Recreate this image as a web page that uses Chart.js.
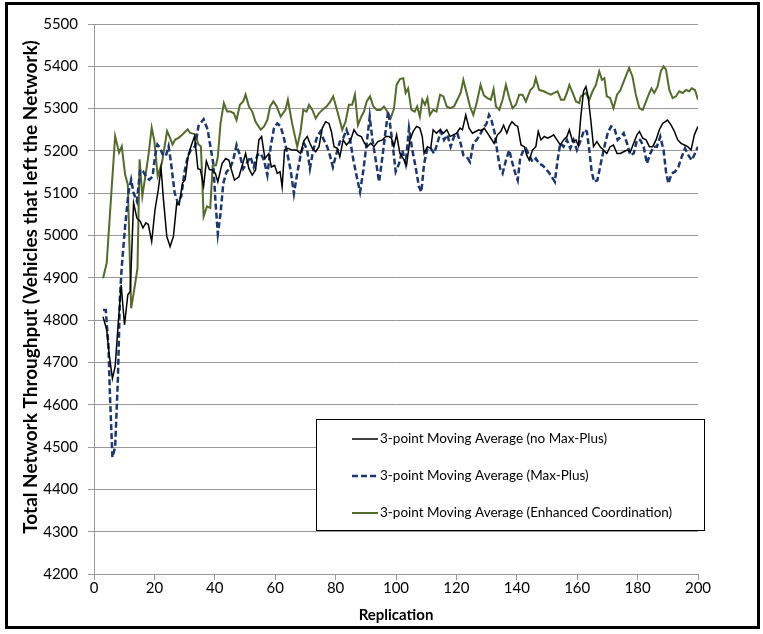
<!DOCTYPE html>
<html>
<head>
<meta charset="utf-8">
<script src="https://cdn.jsdelivr.net/npm/chart.js@4.4.1/dist/chart.umd.min.js"></script>
<style>
    html, body { margin: 0; padding: 0; background: #fff; }
    #wrap { position: relative; width: 763px; height: 634px; }
    #frame { position: absolute; left: 5px; top: 2px; width: 755px; height: 627px; box-sizing: border-box; border: 3px solid #000; pointer-events: none; }
</style>
</head>
<body>
<div id="wrap">
    <canvas id="chart" width="763" height="634"></canvas>
    <div id="frame"></div>
</div>
<script>
// values: replication (x) and throughput (y) per series
const noMaxPlusX = [3, 4.2, 5, 6.1, 7, 8.1, 9, 10.1, 11.2, 12, 13.1, 14.2, 15.3, 16.2, 17.2, 18, 19.1, 20.2, 21.3, 22.2, 23, 24.1, 25.2, 26.3, 27.4, 28.2, 29.3, 30.2, 31.1, 31.8, 33.3, 34.4, 35.2, 36.3, 37.2, 38.2, 39.1, 40.2, 41, 42.4, 43.6, 44.7, 45.4, 46.5, 48, 49.1, 50.2, 51.3, 52.4, 53.5, 54.6, 55.5, 56.6, 57.9, 58.7, 59.8, 60.7, 61.6, 62.3, 63.1, 64.2, 65.6, 67.1, 68.4, 69.5, 70.6, 71.5, 72.3, 73.4, 74.5, 75.6, 76.7, 77.8, 78.6, 79.5, 80.6, 81.4, 82.5, 83.6, 85, 86.1, 87.2, 88.5, 89.6, 90.5, 91.6, 92.7, 94, 95.5, 96.6, 97.7, 98.5, 99.3, 100.2, 101.3, 102.4, 103.5, 104.6, 105.7, 106.8, 107.9, 108.7, 109.3, 110.4, 111.5, 112.3, 113.4, 114.6, 115.7, 116.8, 117.9, 119, 120.1, 121.2, 122, 123.1, 124.2, 125.3, 126.4, 127.5, 128.3, 129.2, 130.3, 131.4, 132.5, 133.6, 134.7, 135.6, 136.7, 137.5, 138.4, 139.5, 140.3, 141.4, 142.5, 143.3, 144.1, 145.2, 146.3, 147.1, 148, 149.1, 150.2, 151.3, 152.2, 153.3, 154.4, 155.5, 156.6, 157.4, 158.5, 159.6, 160.4, 161.2, 162.1, 162.9, 163.6, 164.5, 165.4, 166.5, 167.6, 168.7, 169.8, 170.9, 172, 173.2, 174.3, 175.4, 176.5, 177.6, 178.7, 179.8, 180.6, 181.7, 182.8, 183.9, 185, 186.1, 187.2, 188.3, 189.9, 191.1, 192.2, 193.3, 194.4, 195.5, 196.6, 197.7, 198.8, 200];
const noMaxPlusY = [4808, 4777, 4721, 4662, 4690, 4800, 4883, 4789, 4860, 4868, 5077, 5041, 5034, 5018, 5030, 5026, 4986, 5061, 5109, 5160, 5085, 4998, 4974, 4998, 5077, 5073, 5124, 5132, 5184, 5204, 5235, 5158, 5156, 5117, 5176, 5156, 5155, 5147, 5127, 5170, 5182, 5178, 5158, 5131, 5139, 5166, 5194, 5158, 5143, 5155, 5226, 5234, 5182, 5194, 5162, 5166, 5147, 5151, 5115, 5202, 5206, 5202, 5202, 5194, 5224, 5234, 5218, 5206, 5198, 5210, 5254, 5269, 5265, 5246, 5210, 5206, 5186, 5226, 5214, 5226, 5250, 5238, 5234, 5218, 5210, 5218, 5210, 5222, 5226, 5234, 5234, 5230, 5210, 5238, 5194, 5182, 5166, 5226, 5246, 5258, 5254, 5234, 5194, 5210, 5206, 5250, 5242, 5250, 5242, 5250, 5234, 5238, 5242, 5254, 5250, 5285, 5254, 5242, 5246, 5250, 5248, 5254, 5242, 5230, 5218, 5238, 5246, 5261, 5242, 5258, 5269, 5261, 5258, 5214, 5210, 5190, 5178, 5202, 5210, 5246, 5226, 5234, 5230, 5234, 5238, 5226, 5214, 5226, 5234, 5250, 5222, 5226, 5212, 5281, 5341, 5352, 5329, 5273, 5210, 5222, 5210, 5202, 5194, 5210, 5214, 5194, 5194, 5198, 5202, 5198, 5218, 5238, 5246, 5230, 5226, 5210, 5210, 5226, 5250, 5265, 5273, 5261, 5246, 5226, 5218, 5214, 5210, 5202, 5238, 5258];

const maxPlusX = [3, 3.9, 4.8, 5.3, 6.1, 7, 7.9, 8.6, 9.2, 10.3, 11.4, 12.3, 13.1, 14.2, 15.3, 16.2, 17.2, 18.3, 19.4, 20.2, 21, 21.9, 22.7, 23.8, 24.7, 25.5, 26.7, 27.8, 28.9, 30, 31.1, 32.2, 33.5, 34.6, 36.3, 37.6, 38.8, 39.5, 40.2, 41, 41.9, 42.8, 43.9, 45, 46.1, 47.2, 48.3, 49.4, 50.5, 51.8, 52.9, 54.1, 55.2, 56.3, 57.4, 58.5, 59.6, 60.7, 61.8, 62.9, 64, 65.1, 66.2, 67.3, 68.4, 69.5, 70.6, 71.5, 72.6, 73.9, 75, 76.1, 77.2, 78.1, 79.1, 80.3, 81.4, 82.5, 83.6, 84.8, 85.9, 87, 88.1, 89.2, 90.3, 91.3, 92.2, 93.3, 94.4, 95.5, 96.6, 97.4, 98.2, 99.1, 99.9, 101, 102.1, 103.2, 104.3, 105.4, 106.5, 107.6, 108.4, 109.3, 110.4, 111.5, 112.6, 113.7, 114.8, 115.9, 117, 118.1, 119.2, 120.3, 121.4, 122.3, 123.4, 124.5, 125.6, 126.7, 127.8, 128.9, 130, 130.8, 131.6, 132.7, 133.6, 134.5, 135.3, 136.4, 137.5, 138.6, 139.5, 140.3, 141.1, 142.2, 143, 144.1, 145.2, 146.3, 147.4, 148.5, 149.6, 150.8, 151.9, 152.6, 153.5, 154.4, 155.5, 156.6, 157.7, 158.8, 159.9, 161.2, 162.3, 163.2, 164, 164.8, 165.6, 166.7, 167.8, 169, 170.1, 171.2, 172.3, 173.4, 174.5, 175.4, 176.5, 177.6, 178.7, 179.8, 180.9, 182, 183.1, 184.2, 185.3, 186.4, 187.5, 188.6, 189.4, 190.2, 191.3, 192.4, 193.5, 194.6, 195.7, 196.8, 197.9, 199, 200];
const maxPlusY = [4824, 4824, 4737, 4619, 4476, 4500, 4658, 4856, 4927, 5022, 5101, 5132, 5101, 5081, 5156, 5152, 5140, 5132, 5140, 5188, 5215, 5207, 5192, 5188, 5211, 5172, 5101, 5077, 5093, 5152, 5188, 5204, 5211, 5259, 5275, 5251, 5200, 5170, 5083, 5004, 5052, 5123, 5151, 5158, 5178, 5214, 5190, 5158, 5170, 5186, 5162, 5190, 5194, 5178, 5143, 5210, 5254, 5265, 5258, 5230, 5194, 5155, 5099, 5147, 5190, 5218, 5202, 5158, 5202, 5234, 5246, 5226, 5210, 5190, 5162, 5194, 5222, 5230, 5250, 5226, 5178, 5139, 5103, 5155, 5218, 5281, 5226, 5178, 5127, 5186, 5250, 5293, 5254, 5202, 5151, 5170, 5202, 5170, 5254, 5202, 5162, 5115, 5103, 5170, 5206, 5206, 5194, 5218, 5246, 5226, 5238, 5210, 5234, 5242, 5218, 5190, 5186, 5174, 5218, 5226, 5238, 5254, 5265, 5285, 5273, 5242, 5194, 5158, 5147, 5178, 5202, 5170, 5147, 5131, 5182, 5202, 5206, 5190, 5174, 5182, 5170, 5166, 5158, 5147, 5135, 5127, 5178, 5218, 5210, 5226, 5206, 5226, 5202, 5226, 5250, 5246, 5202, 5151, 5127, 5131, 5170, 5210, 5242, 5258, 5254, 5226, 5234, 5242, 5218, 5190, 5194, 5226, 5226, 5210, 5170, 5194, 5210, 5210, 5234, 5202, 5151, 5123, 5147, 5151, 5162, 5186, 5206, 5190, 5178, 5194, 5210];

const enhancedX = [3, 4.2, 5.6, 7, 8.3, 9.2, 10.3, 11.2, 12.3, 13.3, 14.4, 15.1, 16, 17, 18, 19.1, 20, 21.1, 22.5, 24.2, 25.2, 26, 26.9, 28, 29.3, 31, 31.8, 33.5, 34.6, 35.4, 36.3, 37.4, 38.5, 39.3, 40.4, 41, 41.9, 43, 44.1, 45.2, 46.3, 47.2, 48.3, 49.4, 50.2, 51.3, 52.4, 53.5, 55.2, 56.3, 57.4, 58.3, 59.4, 60.5, 61.8, 63.4, 64.2, 65.6, 67.3, 68.4, 69.3, 70.4, 71.2, 72.3, 73.4, 74.5, 75.6, 77, 78.3, 79.2, 80.6, 82.2, 83.3, 84.4, 85.5, 86.4, 87.4, 88.5, 89.4, 90.3, 91.4, 92.5, 93.6, 94.9, 96, 97.1, 98.2, 99.3, 100.2, 101.3, 102.4, 103.2, 104, 105.1, 106.2, 107, 107.9, 108.7, 109.6, 110.4, 111.2, 112.3, 113.4, 114.6, 115.7, 116.8, 117.9, 119.2, 120.3, 121.4, 122.3, 123.4, 124.5, 125.6, 126.7, 128, 129.1, 130.3, 131.4, 132.3, 133.1, 134.2, 135.3, 136.4, 137.5, 138.6, 139.7, 140.8, 141.9, 143, 144.5, 145.6, 146.3, 147.4, 148.9, 150, 151.3, 152.4, 153.5, 154.6, 155.7, 156.6, 157.4, 158.5, 159.6, 160.7, 161.2, 162.9, 164, 165.1, 166.2, 167.3, 168.2, 169, 169.8, 170.9, 172, 173.2, 174.3, 175.4, 176.5, 177.2, 178.3, 179.4, 180.6, 181.7, 182.8, 183.9, 184.6, 185.5, 186.6, 187.7, 188.6, 189.4, 190.5, 191.6, 192.7, 193.8, 194.9, 196, 197.1, 197.9, 199, 200];
const enhancedY = [4899, 4935, 5085, 5235, 5196, 5211, 5144, 5120, 4828, 4871, 4923, 5180, 5093, 5140, 5188, 5255, 5223, 5140, 5172, 5247, 5231, 5215, 5227, 5231, 5239, 5251, 5243, 5239, 5215, 5211, 5045, 5069, 5065, 5164, 5166, 5186, 5265, 5313, 5293, 5293, 5289, 5273, 5309, 5317, 5333, 5305, 5293, 5269, 5250, 5258, 5273, 5305, 5317, 5305, 5281, 5297, 5321, 5265, 5210, 5246, 5297, 5293, 5309, 5297, 5277, 5289, 5297, 5305, 5317, 5329, 5293, 5250, 5269, 5309, 5309, 5333, 5261, 5281, 5293, 5317, 5329, 5305, 5297, 5297, 5305, 5293, 5277, 5299, 5356, 5370, 5372, 5337, 5348, 5297, 5293, 5305, 5281, 5321, 5309, 5325, 5285, 5297, 5293, 5333, 5329, 5305, 5301, 5305, 5321, 5337, 5368, 5337, 5305, 5285, 5313, 5356, 5331, 5325, 5321, 5346, 5305, 5297, 5321, 5356, 5325, 5301, 5309, 5333, 5333, 5317, 5344, 5352, 5372, 5344, 5341, 5337, 5333, 5337, 5341, 5321, 5321, 5337, 5356, 5337, 5317, 5313, 5329, 5337, 5321, 5341, 5356, 5388, 5368, 5372, 5329, 5325, 5301, 5333, 5344, 5364, 5384, 5396, 5376, 5333, 5301, 5297, 5317, 5337, 5348, 5337, 5352, 5388, 5400, 5392, 5344, 5325, 5329, 5341, 5337, 5344, 5341, 5348, 5344, 5321];

const seriesNames = [
    '3-point Moving Average (no Max-Plus)',
    '3-point Moving Average (Max-Plus)',
    '3-point Moving Average (Enhanced Coordination)'
];
const yTitle = 'Total Network Throughput (Vehicles that left the Network)';
const xTitle = 'Replication';

function toPoints(xs, ys) {
    return xs.map((x, i) => ({ x: x, y: ys[i] }));
}

// y title sits a little above the plot centre in the original, so draw it here
const yTitlePlugin = {
    id: 'yTitlePlugin',
    afterDraw(chart) {
        const ctx = chart.ctx;
        const area = chart.chartArea;
        ctx.save();
        ctx.translate(31, (area.top + area.bottom) / 2 - 12);
        ctx.rotate(-Math.PI / 2);
        ctx.font = 'bold 19px Lato';
        ctx.fillStyle = '#000';
        ctx.textAlign = 'center';
        ctx.textBaseline = 'middle';
        ctx.fillText(yTitle, 0, 0);
        ctx.restore();
    }
};

// legend drawn as a boxed panel inside the plot, like the original
const boxLegend = {
    id: 'boxLegend',
    afterDraw(chart) {
        const ctx = chart.ctx;
        const area = chart.chartArea;
        const left = area.left + 222;
        const top = area.bottom - 155;
        const width = area.right - area.left - 216;
        const height = 111;
        ctx.save();
        ctx.fillStyle = '#ffffff';
        ctx.fillRect(left, top, width, height);
        ctx.strokeStyle = '#000000';
        ctx.lineWidth = 1;
        ctx.strokeRect(left + 0.5, top + 0.5, width, height);
        ctx.font = '13.5px Lato';
        ctx.textBaseline = 'middle';
        chart.data.datasets.forEach((ds, i) => {
            const y = top + 20 + i * 37;
            ctx.beginPath();
            ctx.strokeStyle = ds.borderColor;
            ctx.lineWidth = ds.borderWidth;
            ctx.setLineDash(ds.borderDash || []);
            ctx.moveTo(left + 36, y);
            ctx.lineTo(left + 62, y);
            ctx.stroke();
            ctx.setLineDash([]);
            ctx.fillStyle = '#000000';
            ctx.fillText(ds.label, left + 64, y);
        });
        ctx.restore();
    }
};

const ctx = document.getElementById('chart').getContext('2d');
new Chart(ctx, {
    type: 'line',
    data: {
        datasets: [
            {
                label: seriesNames[0],
                data: toPoints(noMaxPlusX, noMaxPlusY),
                borderColor: '#000000',
                borderWidth: 1.5,
                pointRadius: 0,
                tension: 0
            },
            {
                label: seriesNames[1],
                data: toPoints(maxPlusX, maxPlusY),
                borderColor: '#1b3770',
                borderWidth: 2.5,
                borderDash: [6, 3],
                pointRadius: 0,
                tension: 0
            },
            {
                label: seriesNames[2],
                data: toPoints(enhancedX, enhancedY),
                borderColor: '#556b2b',
                borderWidth: 2,
                pointRadius: 0,
                tension: 0
            }
        ]
    },
    options: {
        responsive: false,
        animation: false,
        layout: {
            padding: { top: 24, right: 65, left: 0, bottom: 0 }
        },
        plugins: {
            legend: { display: false },
            tooltip: { enabled: false }
        },
        scales: {
            x: {
                type: 'linear',
                min: 0,
                max: 200,
                afterFit: scale => { scale.height = 60; },
                ticks: {
                    stepSize: 20,
                    color: '#000',
                    padding: -1,
                    maxRotation: 0,
                    font: { family: 'Lato', size: 15 }
                },
                grid: {
                    drawOnChartArea: false,
                    drawTicks: true,
                    tickLength: 6,
                    color: '#999999'
                },
                border: { color: '#999999' },
                title: {
                    display: true,
                    text: xTitle,
                    color: '#000',
                    font: { family: 'Lato', size: 15, weight: 'bold' },
                    padding: { top: 0, bottom: 10 }
                }
            },
            y: {
                min: 4200,
                max: 5500,
                afterFit: scale => { scale.width = 94; },
                ticks: {
                    stepSize: 100,
                    color: '#000',
                    padding: 10,
                    font: { family: 'Lato', size: 15 },
                    callback: value => String(value)
                },
                grid: {
                    color: '#999999',
                    tickLength: 6
                },
                border: { color: '#999999' }
            }
        }
    },
    plugins: [boxLegend, yTitlePlugin]
});
</script>
</body>
</html>
